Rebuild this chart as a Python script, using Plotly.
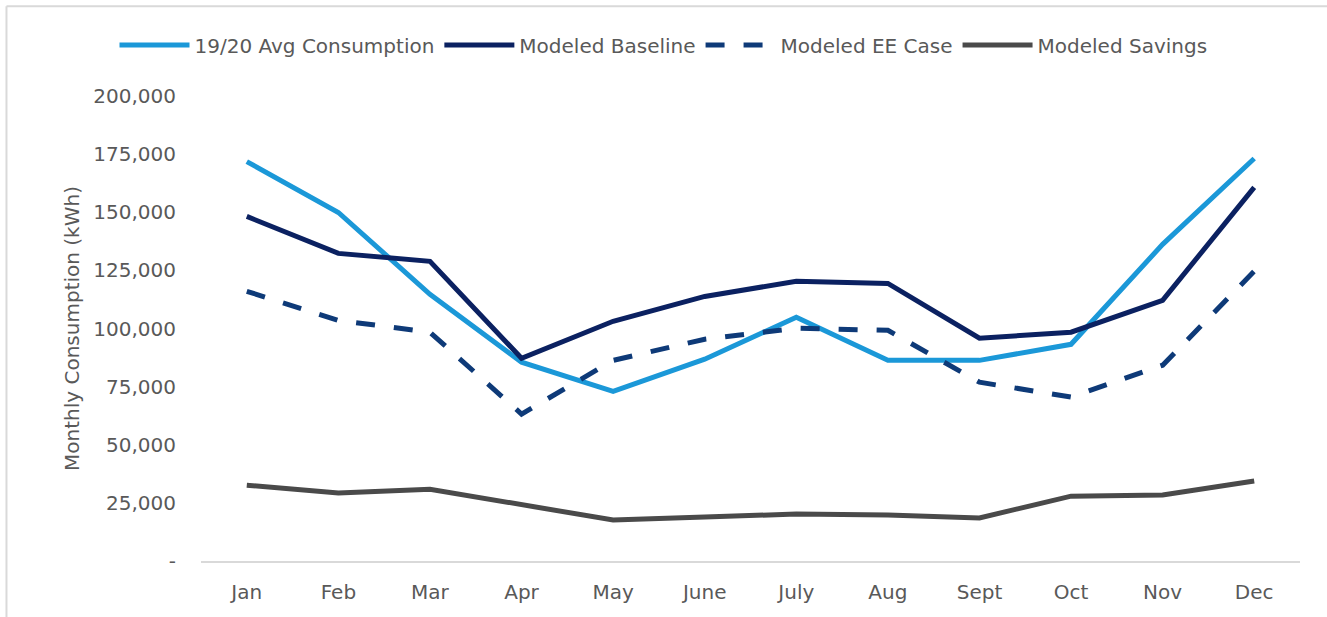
import plotly.graph_objects as go

# months on the x axis
months = ["Jan", "Feb", "Mar", "Apr", "May", "June", "July", "Aug", "Sept", "Oct", "Nov", "Dec"]

# monthly consumption in kWh
avg_consumption = [171800, 149900, 114700, 85500, 73000, 86800, 104800, 86300, 86300, 93200, 136200, 173100]
modeled_baseline = [148200, 132300, 128900, 87200, 103100, 113800, 120300, 119400, 95800, 98400, 112100, 160700]
modeled_ee_case = [116000, 103500, 98400, 63200, 86300, 95400, 100100, 99200, 76900, 70500, 84200, 124600]
modeled_savings = [32600, 29200, 30900, 24100, 17600, 18900, 20200, 19800, 18500, 27900, 28400, 34400]

# y axis ticks
y_ticks = [0, 25000, 50000, 75000, 100000, 125000, 150000, 175000, 200000]
y_tick_text = ["-", "25,000", "50,000", "75,000", "100,000", "125,000", "150,000", "175,000", "200,000"]

font_name = "DejaVu Sans"
grey_text = "#595959"

fig = go.Figure()

fig.add_trace(go.Scatter(x=months, y=avg_consumption, mode="lines",
                         name="19/20 Avg Consumption",
                         line=dict(color="#1b98d8", width=5)))
fig.add_trace(go.Scatter(x=months, y=modeled_baseline, mode="lines",
                         name="Modeled Baseline",
                         line=dict(color="#0b2161", width=5)))
fig.add_trace(go.Scatter(x=months, y=modeled_ee_case, mode="lines",
                         name="Modeled EE Case",
                         line=dict(color="#0e3a78", width=5, dash="19px,19px")))
fig.add_trace(go.Scatter(x=months, y=modeled_savings, mode="lines",
                         name="Modeled Savings",
                         line=dict(color="#4a4a4a", width=5)))

fig.update_layout(
    width=1327, height=617,
    margin=dict(l=201, r=27, t=96, b=56),
    paper_bgcolor="white", plot_bgcolor="white",
    font=dict(family=font_name, size=20, color=grey_text),
    showlegend=True,
    legend=dict(orientation="h", xref="container", yref="container",
                x=0.5, y=0.927, xanchor="center", yanchor="middle",
                font=dict(size=20, color=grey_text), itemwidth=70),
)

fig.update_xaxes(showgrid=False, zeroline=False, showline=True, linecolor="#d9d9d9",
                 linewidth=2, ticks="", tickfont=dict(size=20, color=grey_text),
                 range=[-0.5, 11.5], ticklabelstandoff=12)
fig.update_yaxes(title_text="Monthly Consumption (kWh)",
                 title_font=dict(size=20, color=grey_text), title_standoff=8,
                 range=[0, 200000], tickvals=y_ticks, ticktext=y_tick_text,
                 showgrid=False, zeroline=False, showline=False, ticks="",
                 tickfont=dict(size=20, color=grey_text), ticklabelstandoff=24)

# light frame round the chart, as in the source image
fig.add_shape(type="line", xref="paper", yref="paper", x0=-0.177, x1=1.03, y0=1.193, y1=1.193,
              line=dict(color="#d9d9d9", width=2))
fig.add_shape(type="line", xref="paper", yref="paper", x0=-0.177, x1=-0.177, y0=-0.2, y1=1.193,
              line=dict(color="#d9d9d9", width=2))

# drop the page's default body margin so the figure sits at the window's corner
fig.write_html("out.html", config={"displayModeBar": False},
               post_script="document.body.style.margin='0';")
